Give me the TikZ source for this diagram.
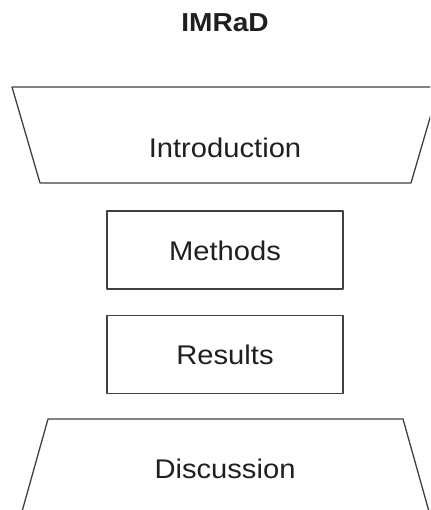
\documentclass[tikz,border=0pt]{standalone}
\usepackage{fontspec}
\setmainfont{Liberation Sans}
\newfontfamily\partfont[FakeStretch=1.08]{Liberation Sans}

\tikzset{
  partline/.style={draw=black!75, line width=1.3pt, line join=round},
  parttext/.style={font=\partfont\fontsize{27}{32}\selectfont, text=black!88, anchor=base},
  partbox/.style={partline, minimum width=236pt, minimum height=78pt, inner sep=0pt},
}

\begin{document}
\begin{tikzpicture}[x=1pt, y=-1pt]
        % Page frame, picture is cut at its edges
        \useasboundingbox (0,0) rectangle (430,510);
        \clip (0,0) rectangle (430,510);

        % Title
        \node[parttext, font=\partfont\bfseries\fontsize{26}{31}\selectfont] (title) at (225,32) {IMRaD};

        % Introduction: wide at the top
        \draw[partline] (12,87) -- (439,87) -- (411,183) -- (40,183) -- cycle;
        \node[parttext] (intro) at (225,158) {Introduction};

        % Middle boxes
        \node[partbox] (methods) at (225,250) {};
        \node[parttext] (methodstext) at (225,260) {Methods};
        \node[partbox] (results) at (225,354.5) {};
        \node[parttext] (resultstext) at (225,364) {Results};

        % Discussion: wide at the bottom
        \draw[partline] (14,540) -- (48,419) -- (403,419) -- (437,540);
        \node[parttext] (discussion) at (225,478) {Discussion};
    \end{tikzpicture}
\end{document}
